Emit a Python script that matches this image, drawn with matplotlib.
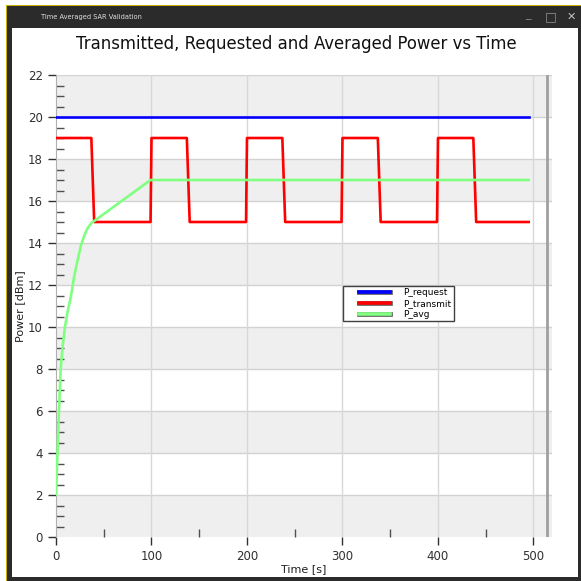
import matplotlib.pyplot as plt
from matplotlib.patches import Rectangle
from matplotlib.lines import Line2D
from matplotlib.legend_handler import HandlerLine2D
import matplotlib.patheffects as pe

# data
t_req = [0, 495]
p_req = [20, 20]

t_tx = [0, 37, 40, 99, 100, 137, 140, 199, 200, 237, 240, 299, 300,
        337, 340, 399, 400, 437, 440, 495]
p_tx = [19, 19, 15, 15, 19, 19, 15, 15, 19, 19, 15, 15, 19,
        19, 15, 15, 19, 19, 15, 15]

t_avg = [0, 1, 1.6, 3.1, 4.9, 7, 9.4, 12, 15.4, 19, 22.7, 26.2, 30, 33, 37, 99, 495]
p_avg = [2, 3.3, 4, 6, 8, 9.1, 10, 10.7, 11.4, 12.4, 13.2, 13.9, 14.4, 14.7, 14.95, 17, 17]

W = 581
fig = plt.figure(figsize=(5.81, 5.81), dpi=100)
fig.patch.set_facecolor('white')

def px_rect(x0, y0, x1, y1, **kw):
    # rectangle in pixel coords, origin top-left
    r = Rectangle((x0 / W, 1 - y1 / W), (x1 - x0) / W, (y1 - y0) / W,
                  transform=fig.transFigure, zorder=-10, **kw)
    fig.patches.append(r)

# window frame
px_rect(6, 5, 581, 581, facecolor='#c8b400', edgecolor='none')
px_rect(7, 6, 581, 581, facecolor='#2b2b2b', edgecolor='none')
px_rect(12, 28, 578, 577, facecolor='white', edgecolor='none')
fig.text(41 / W, 1 - 17 / W, 'Time Averaged SAR Validation', color='#e0e0e0',
         fontsize=4.8, va='center', ha='left')
fig.text(528 / W, 1 - 15 / W, '_', color='#909090', fontsize=8, va='center', ha='center')
fig.text(551 / W, 1 - 17 / W, '□', color='#909090', fontsize=9, va='center', ha='center')
fig.text(571 / W, 1 - 17 / W, '✕', color='#c0c0c0', fontsize=8, va='center', ha='center')

ax = fig.add_axes([56 / W, 1 - 537 / W, 496 / W, 462 / W])
ax.set_facecolor('none')
ax.set_xlim(0, 519.4)
ax.set_ylim(0, 22)

# alternating bands
for y0 in range(0, 22, 4):
    ax.axhspan(y0, y0 + 2, color='#efefef', lw=0, zorder=0)
for y in range(2, 23, 2):
    ax.axhline(y, color='#d2d2d2', lw=1, zorder=0.5)
for x in range(100, 501, 100):
    ax.axvline(x, color='#d8d8d8', lw=1, zorder=0.5)
ax.axvline(514, color='#a0a0a0', lw=2, zorder=0.6)

ax.plot(t_req, p_req, color='#0000ff', lw=1.9, zorder=3)
ax.plot(t_tx, p_tx, color='#ff0000', lw=1.9, zorder=3)
ax.plot(t_avg, p_avg, color='#80ff80', lw=1.9, zorder=3)

for s in ['top', 'right', 'bottom']:
    ax.spines[s].set_visible(False)
ax.spines['left'].set_color('#b0b0b0')
ax.spines['left'].set_linewidth(0.8)

ax.set_xticks(range(0, 501, 100))
ax.set_xticks(range(50, 500, 100), minor=True)
ax.set_yticks(range(0, 23, 2))
ax.set_yticks([y + d for y in range(0, 22, 2) for d in (0.5, 1, 1.5)], minor=True)
ax.tick_params(axis='both', which='major', direction='out', length=6, width=1,
               color='#303030', labelsize=8.5, labelcolor='#303030')
ax.tick_params(axis='y', which='minor', direction='in', length=5.5, width=1, color='#505050')
ax.tick_params(axis='x', which='minor', direction='in', length=6, width=1, color='#505050')

ax.set_xlabel('Time [s]', fontsize=8, color='#202020', labelpad=1)
ax.set_ylabel('Power [dBm]', fontsize=8, color='#202020', labelpad=2)
fig.text(296 / W, 1 - 44 / W, 'Transmitted, Requested and Averaged Power vs Time',
         fontsize=11.9, ha='center', va='center', color='#101010')

outline = [pe.Stroke(linewidth=3.4, foreground='#606060'), pe.Normal()]
handles = [Line2D([], [], color='#0000ff', lw=2.6, path_effects=outline),
           Line2D([], [], color='#ff0000', lw=2.6, path_effects=outline),
           Line2D([], [], color='#80ff80', lw=2.6, path_effects=outline)]
leg = ax.legend(handles, ['P_request', 'P_transmit', 'P_avg'],
                loc='upper left', bbox_to_anchor=(0.579, 0.543),
                fontsize=6.5, frameon=True, fancybox=False, shadow=False,
                handlelength=6.4, handletextpad=0.0, borderpad=0.25,
                labelspacing=0.2, borderaxespad=0,
                handler_map={Line2D: HandlerLine2D(marker_pad=1.45, numpoints=2)})
leg.get_frame().set_edgecolor('#404040')
leg.get_frame().set_linewidth(1)
leg.get_frame().set_facecolor('white')
leg.get_frame().set_alpha(1)

fig.savefig('out.png', dpi=100)
